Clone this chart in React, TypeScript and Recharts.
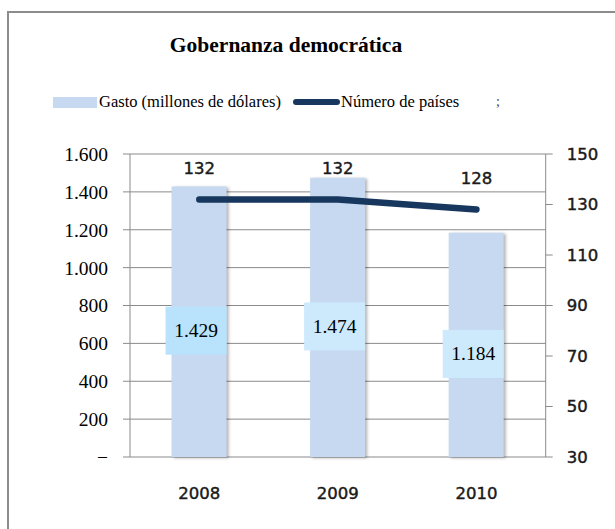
import { Bar, CartesianGrid, ComposedChart, LabelList, Line, Rectangle, XAxis, YAxis } from "recharts";

const YEARS = ["2008", "2009", "2010"];
const GASTO = [1429, 1474, 1184];
const PAISES = [132, 132, 128];
const GASTO_TICKS = [0, 200, 400, 600, 800, 1000, 1200, 1400, 1600];
const PAISES_TICKS = [30, 50, 70, 90, 110, 130, 150];
const EDGE_TICKS = [0, 1, 2, 3];
const BOX_FILLS = ["#b9e2fc", "#cdeafd", "#cdeafd"];

const BAR_FILL = "#c6d9f1";
const LINE_COLOR = "#17375e";
const GRID = "#8a8a8a";
const SERIF = '"Liberation Serif", serif';
const SANS = '"DejaVu Sans", sans-serif';

const data = YEARS.map((year, i) => ({ year, gasto: GASTO[i], paises: PAISES[i] }));

const fmtGasto = (v: number) => (v === 0 ? "−" : String(v).replace(/\B(?=(\d{3})+(?!\d))/g, "."));

const sansTick = { fontFamily: SANS, fontSize: 16.5, fill: "#1a1a1a", stroke: "#1a1a1a", strokeWidth: 0.45 };

const BarBox = (props: any) => {
  const { x, y, width, height, value, index } = props;
  const cx = Number(x) + Number(width) / 2;
  const cy = Number(y) + Number(height) / 2 + 9;
  return (
    <g>
      <rect x={cx - 33.5} y={cy - 24} width={61} height={48} fill={BOX_FILLS[index] ?? BOX_FILLS[1]} />
      <text x={cx - 3} y={cy} textAnchor="middle" dominantBaseline="central" fontFamily={SERIF} fontSize={19.5} fill="#000">
        {fmtGasto(Number(value))}
      </text>
    </g>
  );
};

const LineValue = (props: any) => {
  const { x, y, value } = props;
  return (
    <text x={x} y={Number(y) - 31} textAnchor="middle" dominantBaseline="central" {...sansTick}>
      {value}
    </text>
  );
};

const ShadowBar = (props: any) => (
  <Rectangle {...props} style={{ filter: "drop-shadow(2px 1px 1.5px rgba(0,0,0,0.3))" }} />
);

export default function App() {
  return (
    <div style={{ position: "fixed", left: 0, top: 0, width: 615, height: 529, overflow: "hidden", background: "#fff" }}>
      <div
        style={{
          position: "absolute",
          left: 7,
          top: 11,
          width: 700,
          height: 600,
          border: "2px solid #8c8c8c",
        }}
      />
      <div
        style={{
          position: "absolute",
          left: 0,
          width: 572,
          top: 32,
          textAlign: "center",
          fontFamily: SERIF,
          fontWeight: "bold",
          fontSize: 21.5,
          lineHeight: "26px",
          color: "#000",
        }}
      >
        Gobernanza democrática
      </div>
      <div style={{ position: "absolute", left: 53, top: 97, width: 44, height: 11, background: BAR_FILL }} />
      <div style={{ position: "absolute", left: 99, top: 92, fontFamily: SERIF, fontSize: 16.5, lineHeight: "20px", color: "#000", whiteSpace: "nowrap" }}>
        Gasto (millones de dólares)
      </div>
      <div style={{ position: "absolute", left: 293, top: 99, width: 47, height: 6, borderRadius: 3, background: LINE_COLOR }} />
      <div style={{ position: "absolute", left: 341, top: 92, fontFamily: SERIF, fontSize: 16.5, lineHeight: "20px", color: "#000", whiteSpace: "nowrap" }}>
        Número de países
      </div>
      <div style={{ position: "absolute", left: 496, top: 93, fontFamily: SERIF, fontSize: 14, lineHeight: "18px", color: "#444" }}>;</div>

      <div style={{ position: "absolute", left: 0, top: 0 }}>
        <ComposedChart width={615} height={529} data={data} margin={{ top: 154, right: 0, bottom: 0, left: 0 }} barCategoryGap="30%">
          <CartesianGrid xAxisId="cat" yAxisId="left" vertical={false} stroke={GRID} strokeWidth={1} />
          <XAxis
            xAxisId="edge"
            type="number"
            domain={[0, 3]}
            ticks={EDGE_TICKS}
            tick={false}
            tickSize={6}
            height={0}
            stroke={GRID}
            allowDataOverflow
          />
          <XAxis
            xAxisId="cat"
            dataKey="year"
            axisLine={false}
            tickLine={false}
            tickSize={0}
            tickMargin={30}
            height={72}
            tick={sansTick}
          />
          <YAxis
            yAxisId="left"
            width={130}
            domain={[0, 1600]}
            ticks={GASTO_TICKS}
            tickFormatter={fmtGasto}
            tickSize={7}
            tickMargin={15}
            stroke={GRID}
            tick={{ fontFamily: SERIF, fontSize: 19.5, fill: "#000" }}
          />
          <YAxis
            yAxisId="right"
            orientation="right"
            width={69.3}
            domain={[30, 150]}
            ticks={PAISES_TICKS}
            tickSize={7}
            tickMargin={14}
            stroke={GRID}
            tick={sansTick}
          />
          <Bar xAxisId="cat" yAxisId="left" dataKey="gasto" fill={BAR_FILL} shape={ShadowBar} isAnimationActive={false}>
            <LabelList dataKey="gasto" content={BarBox} />
          </Bar>
          <Line
            xAxisId="cat"
            yAxisId="right"
            type="linear"
            dataKey="paises"
            stroke={LINE_COLOR}
            strokeWidth={6.5}
            strokeLinecap="round"
            strokeLinejoin="round"
            dot={false}
            activeDot={false}
            isAnimationActive={false}
          >
            <LabelList dataKey="paises" content={LineValue} />
          </Line>
        </ComposedChart>
      </div>
    </div>
  );
}
